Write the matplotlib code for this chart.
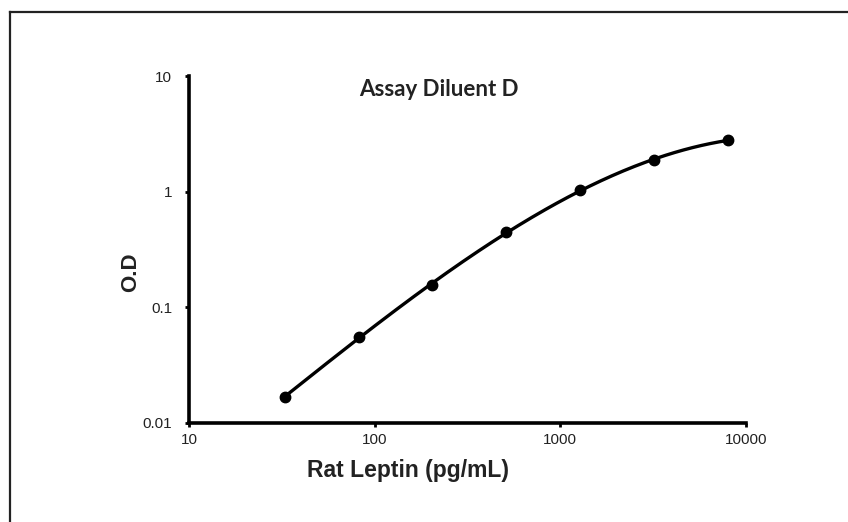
import numpy as np
import matplotlib
matplotlib.use("Agg")
import matplotlib.pyplot as plt
from matplotlib.lines import Line2D

plt.rcParams["font.family"] = ["Liberation Sans", "DejaVu Sans"]

# Data (Rat Leptin standard curve, 2.5-fold dilutions)
concentration = [32.77, 81.92, 204.8, 512, 1280, 3200, 8000]
od = [0.0168, 0.0553, 0.156, 0.448, 1.03, 1.88, 2.79]
x_ticks = [10, 100, 1000, 10000]
x_tick_labels = ["10", "100", "1000", "10000"]
y_ticks = [0.01, 0.1, 1, 10]
y_tick_labels = ["0.01", "0.1", "1", "10"]
title = "Assay Diluent D"
x_label = "Rat Leptin (pg/mL)"
y_label = "O.D"

fig = plt.figure(figsize=(8.48, 5.22), dpi=100)
fig.patch.set_facecolor("white")

# outer frame (top and left edges only)
fig.add_artist(Line2D([9.5/848, 9.5/848], [0, 1 - 11.5/522], transform=fig.transFigure,
                      color="#222222", lw=1.6))
fig.add_artist(Line2D([9.5/848, 1], [1 - 11.5/522, 1 - 11.5/522], transform=fig.transFigure,
                      color="#222222", lw=1.6))

ax = fig.add_axes([189/848, 1 - 423/522, (746 - 189)/848, (423 - 76)/522])
ax.set_xscale("log")
ax.set_yscale("log")
ax.set_xlim(10, 10000)
ax.set_ylim(0.01, 10)

# smooth fitted curve in log-log space
lx = np.log10(concentration)
ly = np.log10(od)
coef = np.polyfit(lx, ly, 3)
xs = np.linspace(lx[0], lx[-1], 200)
ax.plot(10**xs, 10**np.polyval(coef, xs), color="black", lw=2.4, solid_capstyle="round")
ax.plot(concentration, od, "o", color="black", ms=7.5)

for s in ["top", "right"]:
    ax.spines[s].set_visible(False)
for s in ["left", "bottom"]:
    ax.spines[s].set_linewidth(2.6)
    ax.spines[s].set_color("black")

ax.set_xticks(x_ticks)
ax.set_xticklabels(x_tick_labels)
ax.set_yticks(y_ticks)
ax.set_yticklabels(y_tick_labels)
ax.minorticks_off()
ax.tick_params(axis="both", direction="out", length=3, width=2, color="black",
               labelsize=11, labelcolor="#222222")
ax.tick_params(axis="y", pad=9)
ax.tick_params(axis="x", pad=4)

fig.text(439/848, 1 - 89/522, title, ha="center", va="center",
         fontsize=16, fontweight="bold", family="Lato", color="#222222")
fig.text(408/848, 1 - 470/522, x_label, ha="center", va="center",
         fontsize=16.5, fontweight="bold", color="#222222")
fig.text(131/848, 1 - 272/522, y_label, ha="center", va="center", rotation=90,
         fontsize=16, fontweight="bold", color="#222222")

fig.savefig("out.png", dpi=100, facecolor="white")
